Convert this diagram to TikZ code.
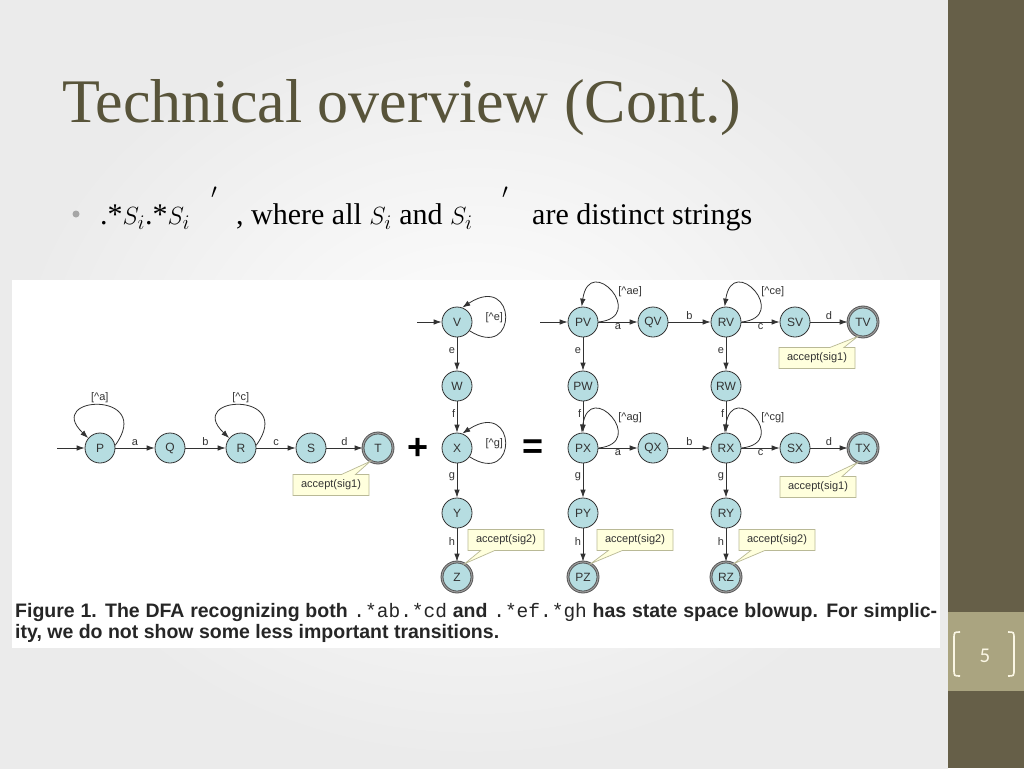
\documentclass[tikz,border=0pt]{standalone}
\usepackage{fontspec}
\setmainfont{Liberation Serif}
\setsansfont{Liberation Sans}
\setmonofont{Liberation Mono}
\newfontfamily\numfont{Carlito}
\usepackage{tikz}
\usetikzlibrary{arrows.meta,shapes.callouts}
\usepackage{xcolor}
\definecolor{barbrown}{RGB}{102,95,72}
\definecolor{numbox}{RGB}{170,164,128}
\definecolor{numcream}{RGB}{250,246,228}
\definecolor{titlecol}{RGB}{88,84,58}
\definecolor{statefill}{RGB}{182,221,225}
\definecolor{notefill}{RGB}{255,255,221}
\definecolor{noteline}{RGB}{185,185,150}
\definecolor{transcol}{RGB}{50,50,50}
\newcommand{\notset}[1]{[\textasciicircum #1]}

\begin{document}
\begin{tikzpicture}[x=1pt,y=-1pt,
  dfastate/.style={circle,draw=transcol,fill=statefill,line width=0.8pt,minimum size=30pt,inner sep=0pt,text=black!80,font=\sffamily\fontsize{12}{12}\selectfont},
  accstate/.style={dfastate,draw=black!70,double=black!40,double distance=1.2pt},
  trans/.style={draw=transcol,line width=0.8pt,-{Latex[length=8pt,width=5.5pt]}},
  lbl/.style={font=\sffamily\fontsize{11}{11}\selectfont,inner sep=1.5pt,text=black!80},
  acceptnote/.style={rectangle callout,draw=noteline,line width=0.7pt,fill=notefill,text=black!80,font=\sffamily\fontsize{11}{11}\selectfont,inner sep=3pt,minimum height=21pt,minimum width=76pt,callout pointer width=14pt}]
\useasboundingbox (0,0) rectangle (1024,768);
% slide
\shade[inner color=white,outer color=black!8] (0,0) rectangle (948,768);
\fill[barbrown] (948,0) rectangle (1024,768);
\fill[numbox] (948,612) rectangle (1024,691);
\fill[white] (12,280) rectangle (940,648);
\node[anchor=base west,inner sep=0pt,text=titlecol,font=\fontsize{62}{62}\selectfont] (title) at (62,122) {Technical overview (Cont.)};
\fill[black!35] (76,214) circle (3.5);
\node[anchor=base west,inner sep=0pt,font=\fontsize{30}{30}\selectfont] (blt1) at (100,224) {.*$S_i$.*$S_i$};
\node[anchor=base west,inner sep=0pt,font=\fontsize{30}{30}\selectfont] (prime1) at (211,208) {$'$};
\node[anchor=base west,inner sep=0pt,font=\fontsize{30}{30}\selectfont] (blt2) at (236,224) {, where all $S_i$ and $S_i$};
\node[anchor=base west,inner sep=0pt,font=\fontsize{30}{30}\selectfont] (prime2) at (502,208) {$'$};
\node[anchor=base west,inner sep=0pt,font=\fontsize{30}{30}\selectfont] (blt3) at (532,224) {are distinct strings};
% page number
\draw[numcream,line width=1.6pt] (960,632) .. controls (954,632) .. (954,639) -- (954,669) .. controls (954,676) .. (960,676);
\draw[numcream,line width=1.6pt] (1008,632) .. controls (1014,632) .. (1014,639) -- (1014,669) .. controls (1014,676) .. (1008,676);
\node[text=numcream,font=\numfont\fontsize{21}{21}\selectfont] (pagenum) at (985,656) {5};

% .*ab.*cd
\node[dfastate] (P) at (100,448) {P};
\node[dfastate] (Q) at (170,448) {Q};
\node[dfastate] (R) at (241,448) {R};
\node[dfastate] (S) at (311,448) {S};
\node[accstate] (T) at (378,448) {T};
\coordinate (inP) at (57,448);
\draw[trans] (inP) -- (P);
\draw[trans] (P) -- node[lbl,above] {a} (Q);
\draw[trans] (Q) -- node[lbl,above] {b} (R);
\draw[trans] (R) -- node[lbl,above] {c} (S);
\draw[trans] (S) -- node[lbl,above] {d} (T);
\draw[trans] (P.10) .. controls +(40,-55) and +(-45,-43) .. node[lbl,above] {\notset{a}} (P.140);
\draw[trans] (R.10) .. controls +(40,-55) and +(-45,-43) .. node[lbl,above] {\notset{c}} (R.140);

\node[font=\sffamily\bfseries\fontsize{36}{36}\selectfont] (plus) at (418,449) {+};

% .*ef.*gh
\node[dfastate] (V) at (457,322) {V};
\node[dfastate] (W) at (457,386) {W};
\node[dfastate] (X) at (457,448) {X};
\node[dfastate] (Y) at (457,513) {Y};
\node[accstate] (Z) at (457,577) {Z};
\coordinate (inV) at (417,322);
\draw[trans] (inV) -- (V);
\draw[trans] (V) -- node[lbl,left,pos=0.4] {e} (W);
\draw[trans] (W) -- node[lbl,left,pos=0.4] {f} (X);
\draw[trans] (X) -- node[lbl,left,pos=0.4] {g} (Y);
\draw[trans] (Y) -- node[lbl,left,pos=0.4] {h} (Z);
\draw[trans] (V.-35) .. controls +(49,31) and +(55,-36) .. node[lbl,pos=0.5,anchor=east] {\notset{e}} (V.70);
\draw[trans] (X.-35) .. controls +(49,31) and +(55,-36) .. node[lbl,pos=0.5,anchor=east] {\notset{g}} (X.70);

\node[font=\sffamily\bfseries\fontsize{36}{36}\selectfont] (equals) at (533,449) {=};

% combined DFA
\node[dfastate] (PV) at (583,322) {PV};
\node[dfastate] (QV) at (653,322) {QV};
\node[dfastate] (RV) at (726,322) {RV};
\node[dfastate] (SV) at (795,322) {SV};
\node[accstate] (TV) at (863,322) {TV};
\node[dfastate] (PW) at (583,386) {PW};
\node[dfastate] (RW) at (726,386) {RW};
\node[dfastate] (PX) at (583,448) {PX};
\node[dfastate] (QX) at (653,448) {QX};
\node[dfastate] (RX) at (726,448) {RX};
\node[dfastate] (SX) at (795,448) {SX};
\node[accstate] (TX) at (863,448) {TX};
\node[dfastate] (PY) at (583,513) {PY};
\node[dfastate] (RY) at (726,513) {RY};
\node[accstate] (PZ) at (583,577) {PZ};
\node[accstate] (RZ) at (726,577) {RZ};
\coordinate (inPV) at (540,322);
\draw[trans] (inPV) -- (PV);
\foreach \row in {V,X} {
  \draw[trans] (P\row) -- node[lbl,below] {a} (Q\row);
  \draw[trans] (Q\row) -- node[lbl,above] {b} (R\row);
  \draw[trans] (R\row) -- node[lbl,below] {c} (S\row);
  \draw[trans] (S\row) -- node[lbl,above] {d} (T\row);
}
\foreach \col in {P,R} {
  \draw[trans] (\col V) -- node[lbl,left,pos=0.4] {e} (\col W);
  \draw[trans] (\col W) -- node[lbl,left,pos=0.4] {f} (\col X);
  \draw[trans] (\col X) -- node[lbl,left,pos=0.4] {g} (\col Y);
  \draw[trans] (\col Y) -- node[lbl,left,pos=0.4] {h} (\col Z);
}
\draw[trans] (PV.0) .. controls +(50,-5) and +(8,-55) .. node[lbl,pos=0.4,anchor=south west] {\notset{ae}} (PV.95);
\draw[trans] (RV.0) .. controls +(50,-5) and +(8,-55) .. node[lbl,pos=0.4,anchor=south west] {\notset{ce}} (RV.95);
\draw[trans] (PX.0) .. controls +(50,-5) and +(8,-55) .. node[lbl,pos=0.4,anchor=south west] {\notset{ag}} (PX.95);
\draw[trans] (RX.0) .. controls +(50,-5) and +(8,-55) .. node[lbl,pos=0.4,anchor=south west] {\notset{cg}} (RX.95);

% accept notes
\node[acceptnote,callout absolute pointer={(T.-120)}] (noteT) at (331,485) {accept(sig1)};
\node[acceptnote,callout absolute pointer={(Z.60)}] (noteZ) at (506,540) {accept(sig2)};
\node[acceptnote,callout absolute pointer={(TV.-110)}] (noteTV) at (817,358) {accept(sig1)};
\node[acceptnote,callout absolute pointer={(TX.-110)}] (noteTX) at (818,487) {accept(sig1)};
\node[acceptnote,callout absolute pointer={(PZ.60)}] (notePZ) at (635,540) {accept(sig2)};
\node[acceptnote,callout absolute pointer={(RZ.60)}] (noteRZ) at (777,540) {accept(sig2)};

% caption
\node[anchor=base west,inner sep=0pt,text=black!85,font=\sffamily\bfseries\fontsize{19.5}{21}\selectfont] (cap1) at (15,617) {\makebox[922pt][s]{Figure 1. The DFA recognizing both \texttt{\mdseries .*ab.*cd} and \texttt{\mdseries .*ef.*gh} has state space blowup. For simplic-}};
\node[anchor=base west,inner sep=0pt,text=black!85,font=\sffamily\bfseries\fontsize{19.5}{21}\selectfont] (cap2) at (15,638) {ity, we do not show some less important transitions.};
\end{tikzpicture}
\end{document}
